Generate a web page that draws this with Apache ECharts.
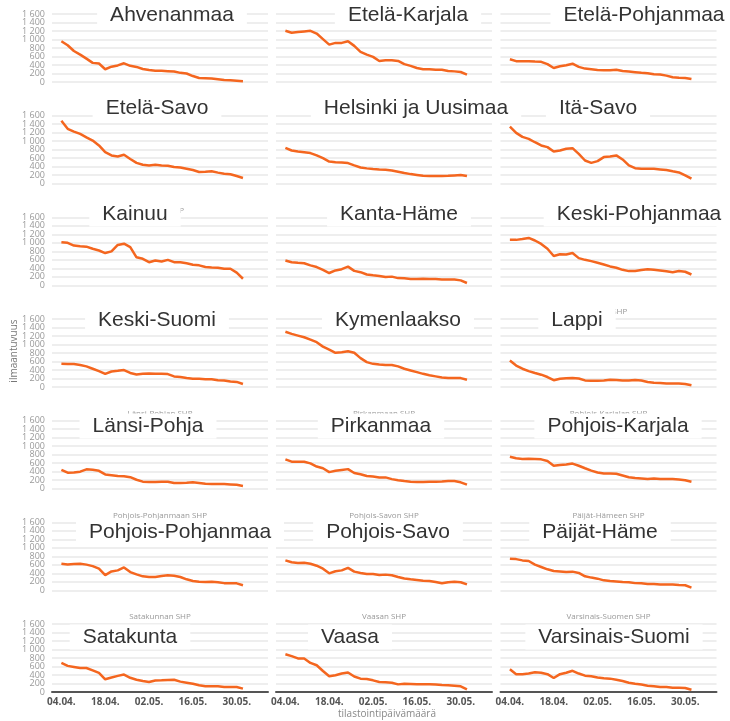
<!DOCTYPE html>
<html>
<head>
<meta charset="utf-8">
<script src="https://cdn.jsdelivr.net/npm/echarts@6/dist/echarts.min.js"></script>
<style>
  html, body { margin: 0; padding: 0; background: #fff; }
  #chart { width: 730px; height: 721px; }
</style>
</head>
<body>
<div id="chart"></div>
<script>
// päivämäärät (joka toinen päivä)
const dates = [
  '2022-04-04', '2022-04-06', '2022-04-08', '2022-04-10', '2022-04-12', '2022-04-14', '2022-04-16',
  '2022-04-18', '2022-04-20', '2022-04-22', '2022-04-24', '2022-04-26', '2022-04-28', '2022-04-30',
  '2022-05-02', '2022-05-04', '2022-05-06', '2022-05-08', '2022-05-10', '2022-05-12', '2022-05-14',
  '2022-05-16', '2022-05-18', '2022-05-20', '2022-05-22', '2022-05-24', '2022-05-26', '2022-05-28',
  '2022-05-30', '2022-06-01'
];
const tickDates = ['2022-04-04', '2022-04-18', '2022-05-02', '2022-05-16', '2022-05-30'];
const yTicks = [0, 200, 400, 600, 800, 1000, 1200, 1400, 1600];
const axisStart = '2022-04-01';
const axisEnd = '2022-06-09';

const regionNames = [
  'Ahvenanmaa', 'Etelä-Karjala', 'Etelä-Pohjanmaa',
  'Etelä-Savo', 'Helsinki ja Uusimaa', 'Itä-Savo',
  'Kainuu', 'Kanta-Häme', 'Keski-Pohjanmaa',
  'Keski-Suomi', 'Kymenlaakso', 'Lappi',
  'Länsi-Pohja', 'Pirkanmaa', 'Pohjois-Karjala',
  'Pohjois-Pohjanmaa', 'Pohjois-Savo', 'Päijät-Häme',
  'Satakunta', 'Vaasa', 'Varsinais-Suomi'
];
const shpNames = [
  'Ahvenanmaa', 'Etelä-Karjalan SHP', 'Etelä-Pohjanmaan SHP',
  'Etelä-Savon SHP', 'Helsingin ja Uudenmaan SHP', 'Itä-Savon SHP',
  'Kainuun SHP', 'Kanta-Hämeen SHP', 'Keski-Pohjanmaan SHP',
  'Keski-Suomen SHP', 'Kymenlaakson SHP', 'Lapin SHP',
  'Länsi-Pohjan SHP', 'Pirkanmaan SHP', 'Pohjois-Karjalan SHP',
  'Pohjois-Pohjanmaan SHP', 'Pohjois-Savon SHP', 'Päijät-Hämeen SHP',
  'Satakunnan SHP', 'Vaasan SHP', 'Varsinais-Suomen SHP'
];

// ilmaantuvuus
const ahvenanmaa = [960, 865, 730, 645, 550, 450, 435, 300, 360, 390, 440, 380, 355, 305, 280, 265, 265, 255, 245, 215, 200, 140, 95, 90, 85, 65, 45, 40, 30, 20];
const etelaKarjala = [1205, 1160, 1175, 1190, 1205, 1140, 1010, 880, 920, 920, 960, 850, 710, 645, 590, 495, 510, 510, 495, 420, 380, 330, 300, 300, 290, 290, 260, 250, 235, 175];
const etelaPohjanmaa = [535, 490, 490, 490, 480, 475, 420, 330, 370, 395, 430, 355, 315, 300, 285, 275, 275, 290, 260, 245, 230, 215, 205, 180, 175, 150, 110, 100, 95, 70];
const etelaSavo = [1480, 1290, 1225, 1170, 1090, 1015, 900, 740, 665, 640, 680, 580, 490, 445, 430, 445, 430, 420, 390, 380, 350, 320, 275, 280, 290, 260, 235, 220, 180, 135];
const helsinkiUusimaa = [842, 780, 755, 740, 720, 665, 600, 520, 505, 500, 485, 430, 380, 360, 345, 335, 330, 310, 280, 250, 225, 205, 185, 180, 180, 180, 185, 195, 205, 180];
const itaSavo = [1340, 1195, 1100, 1055, 975, 900, 860, 755, 780, 820, 835, 700, 545, 490, 530, 625, 640, 665, 570, 430, 365, 350, 350, 350, 335, 320, 290, 265, 195, 117];
const kainuu = [1015, 1000, 935, 920, 910, 860, 820, 760, 800, 950, 980, 900, 660, 625, 545, 585, 560, 600, 545, 545, 520, 485, 470, 430, 420, 415, 390, 390, 300, 155];
const kantaHame = [585, 545, 530, 520, 470, 430, 365, 290, 350, 380, 440, 340, 310, 255, 235, 220, 195, 205, 170, 165, 150, 150, 155, 150, 150, 140, 140, 135, 117, 55];
const keskiPohjanmaa = [1070, 1070, 1090, 1115, 1055, 975, 860, 690, 730, 725, 760, 640, 600, 570, 530, 490, 445, 415, 365, 335, 335, 360, 380, 365, 350, 330, 310, 335, 320, 255];
const keskiSuomi = [545, 540, 540, 520, 485, 430, 375, 310, 365, 380, 400, 330, 295, 310, 320, 310, 310, 305, 250, 235, 210, 195, 195, 185, 180, 160, 155, 130, 120, 70];
const kymenlaakso = [1300, 1250, 1210, 1170, 1115, 1055, 950, 880, 805, 820, 840, 805, 680, 585, 545, 530, 520, 520, 485, 430, 390, 350, 310, 275, 250, 225, 210, 210, 210, 170];
const lappi = [625, 505, 430, 375, 330, 290, 235, 160, 195, 205, 210, 200, 155, 150, 150, 155, 170, 165, 155, 155, 165, 155, 117, 100, 95, 85, 85, 85, 70, 40];
const lansiPohja = [445, 375, 380, 400, 455, 445, 420, 335, 318, 300, 292, 270, 210, 165, 155, 155, 165, 165, 135, 135, 140, 150, 135, 115, 110, 110, 110, 100, 90, 65];
const pirkanmaa = [690, 635, 635, 635, 595, 520, 480, 390, 420, 440, 460, 370, 340, 300, 285, 265, 265, 225, 200, 180, 165, 155, 155, 165, 165, 170, 180, 180, 150, 95];
const pohjoisKarjala = [750, 715, 700, 705, 700, 690, 650, 540, 555, 570, 590, 540, 480, 425, 380, 355, 355, 350, 310, 270, 250, 240, 230, 240, 225, 225, 225, 215, 200, 165];
const pohjoisPohjanmaa = [627, 610, 620, 627, 605, 570, 510, 360, 445, 470, 540, 430, 375, 330, 315, 315, 335, 355, 345, 315, 260, 220, 205, 195, 205, 190, 170, 170, 165, 120];
const pohjoisSavo = [705, 660, 645, 650, 627, 580, 510, 400, 450, 470, 530, 440, 410, 385, 385, 360, 370, 355, 315, 280, 260, 245, 225, 220, 195, 165, 190, 205, 190, 140];
const paijatHame = [745, 735, 705, 690, 605, 550, 495, 455, 445, 430, 440, 410, 330, 300, 275, 235, 220, 210, 195, 190, 170, 165, 150, 150, 140, 135, 135, 125, 120, 65];
const satakunta = [685, 615, 590, 565, 565, 510, 450, 300, 340, 380, 410, 335, 290, 260, 235, 270, 275, 285, 290, 245, 220, 195, 160, 135, 135, 135, 120, 120, 120, 80];
const vaasa = [890, 845, 790, 790, 685, 630, 495, 370, 395, 435, 460, 365, 315, 305, 275, 235, 230, 220, 180, 195, 190, 180, 180, 180, 175, 165, 160, 150, 135, 65];
const varsinaisSuomi = [535, 420, 420, 435, 465, 455, 420, 330, 420, 455, 500, 435, 385, 370, 340, 325, 315, 290, 260, 220, 195, 175, 150, 135, 120, 120, 100, 100, 95, 55];

const seriesValues = [
  ahvenanmaa, etelaKarjala, etelaPohjanmaa,
  etelaSavo, helsinkiUusimaa, itaSavo,
  kainuu, kantaHame, keskiPohjanmaa,
  keskiSuomi, kymenlaakso, lappi,
  lansiPohja, pirkanmaa, pohjoisKarjala,
  pohjoisPohjanmaa, pohjoisSavo, paijatHame,
  satakunta, vaasa, varsinaisSuomi
];

// päiviä (UTC, ei kesäaikaongelmia)
const DAY = 86400000;
function dayNum(s) {
  const [y, m, d] = s.split('-').map(Number);
  return Math.round(Date.UTC(y, m - 1, d) / DAY);
}
function fmtDay(v) {
  const d = new Date(Math.round(v) * DAY);
  return String(d.getUTCDate()).padStart(2, '0') + '.' + String(d.getUTCMonth() + 1).padStart(2, '0') + '.';
}
function fmtNum(v) {
  return v >= 1000 ? String(v).replace(/(\d)(\d{3})$/, '$1 $2') : String(v);
}

// asettelu
const colLeft = [52, 276, 500.5];
const gridW = 216;
const gridH = 68;
const rowTop = (r) => 14 + r * 101.67;
const titleY = [15, 108, 214, 320, 426, 532, 637];
const titleX = [
  172, 408, 644,
  157, 416, 598,
  135, 399, 639,
  157, 398, 577,
  148, 381, 618,
  180, 388, 600,
  130, 350, 614
];

const chart = echarts.init(document.getElementById('chart'));
const grids = [], xAxes = [], yAxes = [], series = [], graphics = [];

seriesValues.forEach((vals, i) => {
  const r = Math.floor(i / 3), c = i % 3;
  const bottomRow = r === 6;
  grids.push({ left: colLeft[c], top: rowTop(r), width: gridW, height: gridH });
  xAxes.push({
    type: 'value',
    gridIndex: i,
    min: dayNum(axisStart),
    max: dayNum(axisEnd),
    axisLine: { show: bottomRow, onZero: false, lineStyle: { color: '#555', width: 2 } },
    axisTick: { show: false },
    splitLine: { show: false },
    axisLabel: {
      show: bottomRow,
      customValues: tickDates.map(dayNum),
      formatter: fmtDay,
      color: '#555',
      fontFamily: 'Open Sans',
      fontWeight: 'bold',
      fontSize: 10,
      margin: 5
    }
  });
  yAxes.push({
    type: 'value',
    gridIndex: i,
    min: 0,
    max: 1600,
    interval: 200,
    axisLine: { show: false },
    axisTick: { show: false },
    splitLine: { lineStyle: { color: '#e8e8e8', width: 1.5 } },
    // tiheät arvot piirretään alla omina teksteinä, ettei päällekkäisiä piiloteta
    axisLabel: { show: false }
  });
  series.push({
    type: 'line',
    name: regionNames[i],
    xAxisIndex: i,
    yAxisIndex: i,
    showSymbol: false,
    silent: true,
    lineStyle: { color: '#f4661f', width: 2.5 },
    data: dates.map((d, k) => [dayNum(d), vals[k]])
  });
  // alkuperäinen pieni otsikko
  graphics.push({
    type: 'text',
    z: 50,
    x: colLeft[c] + gridW / 2,
    y: rowTop(r) - 7,
    style: {
      text: shpNames[i],
      fill: '#999',
      font: '8px "Open Sans"',
      align: 'center',
      verticalAlign: 'middle'
    }
  });
  // iso otsikko valkoisella taustalla
  graphics.push({
    type: 'text',
    z: 100,
    x: titleX[i],
    y: titleY[r],
    style: {
      text: regionNames[i],
      fill: '#333',
      font: '21px "Liberation Sans", Arial, sans-serif',
      align: 'center',
      verticalAlign: 'middle',
      backgroundColor: '#fff',
      padding: [2, 13]
    }
  });
});

graphics.push({
  type: 'text',
  x: 14,
  y: 351,
  rotation: Math.PI / 2,
  style: {
    text: 'ilmaantuvuus',
    fill: '#777',
    font: '10px "Open Sans"',
    align: 'center',
    verticalAlign: 'middle'
  }
});
graphics.push({
  type: 'text',
  x: 387,
  y: 714,
  style: {
    text: 'tilastointipäivämäärä',
    fill: '#888',
    font: '10px "Open Sans"',
    align: 'center',
    verticalAlign: 'middle'
  }
});

chart.setOption({
  backgroundColor: '#fff',
  animation: false,
  grid: grids,
  xAxis: xAxes,
  yAxis: yAxes,
  series: series,
  graphic: graphics
});

// y-akselin arvot vasempaan sarakkeeseen akselin omalla asteikolla
seriesValues.forEach((vals, i) => {
  if (i % 3 !== 0) return;
  yTicks.forEach((v) => {
    graphics.push({
      type: 'text',
      z: 40,
      x: colLeft[0] - 7,
      y: chart.convertToPixel({ yAxisIndex: i }, v),
      style: {
        text: fmtNum(v),
        fill: '#999',
        font: '9px "Open Sans"',
        align: 'right',
        verticalAlign: 'middle'
      }
    });
  });
});
chart.setOption({ graphic: graphics });
</script>
</body>
</html>
